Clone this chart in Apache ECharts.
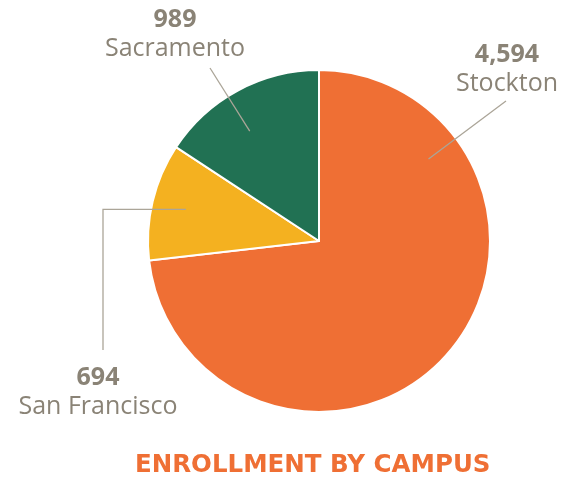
<!DOCTYPE html>
<html>
<head>
<meta charset="utf-8">
<style>
html, body { margin: 0; padding: 0; background: #fff; }
#main { width: 580px; height: 479px; }
</style>
<script src="https://cdn.jsdelivr.net/npm/echarts@6/dist/echarts.min.js"></script>
</head>
<body>
<div id="main"></div>
<script>
var campuses = ['Stockton', 'San Francisco', 'Sacramento'];
var enrollment = [4594, 694, 989];

var pieCenter = [319, 241];
var pieRadius = 171;
var sliceColors = ['#EF6F34', '#F4B120', '#217153'];
var textGray = '#8A8376';
var lineGray = '#ABA598';

// label block (top centre) and where its leader line ends
var labelSpots = [
	{x: 507, y: 40, end: [506, 101], toward: true, r: 0.8},
	{x: 98, y: 363, end: [103, 350], elbow: true, r: 0.8},
	{x: 175, y: 5, end: [210, 68], toward: true, r: 0.76}
];

var total = enrollment.reduce(function (a, b) { return a + b; }, 0);

// slice span in math degrees (pie starts at 12 o'clock, clockwise)
var sliceRange = function (i) {
	var before = 0;
	for (var j = 0; j < i; j++) before += enrollment[j];
	var a0 = 90 - before / total * 360;
	var a1 = 90 - (before + enrollment[i]) / total * 360;
	return [a1, a0];
};

var anchorPoint = function (i) {
	var spot = labelSpots[i];
	var rg = sliceRange(i);
	var ang;
	if (spot.toward) {
		ang = Math.atan2(pieCenter[1] - spot.end[1], spot.end[0] - pieCenter[0]) * 180 / Math.PI;
		while (ang > rg[1]) ang -= 360;
		ang = Math.max(rg[0] + 8, Math.min(rg[1] - 8, ang));
	} else {
		ang = (rg[0] + rg[1]) / 2;
	}
	var rad = ang * Math.PI / 180;
	var r = spot.r * pieRadius;
	return [pieCenter[0] + r * Math.cos(rad), pieCenter[1] - r * Math.sin(rad)];
};

var pieData = campuses.map(function (name, i) {
	return {name: name, value: enrollment[i], itemStyle: {color: sliceColors[i]}};
});

var chart = echarts.init(document.getElementById('main'));
chart.setOption({
	animation: false,
	title: {
		text: 'ENROLLMENT BY CAMPUS',
		left: 135,
		top: 453,
		padding: 0,
		textStyle: {
			fontFamily: 'DejaVu Sans',
			fontWeight: 'bold',
			fontSize: 24.5,
			color: '#EF6F34'
		}
	},
	series: [
		{
			// the slices
			type: 'pie',
			center: pieCenter,
			radius: pieRadius,
			startAngle: 90,
			clockwise: true,
			silent: true,
			z: 2,
			itemStyle: {
				borderColor: '#fff',
				borderWidth: 2
			},
			data: pieData,
			label: {show: false},
			labelLine: {show: false}
		},
		{
			// same data again, see-through, only to carry labels + leader lines above the slices
			type: 'pie',
			center: pieCenter,
			radius: pieRadius,
			startAngle: 90,
			clockwise: true,
			silent: true,
			z: 3,
			avoidLabelOverlap: false,
			itemStyle: {color: 'rgba(0,0,0,0)', borderWidth: 0},
			data: campuses.map(function (name, i) {
				return {name: name, value: enrollment[i]};
			}),
			label: {
				show: true,
				position: 'outside',
				formatter: function (p) {
					return '{v|' + p.value.toLocaleString('en-US') + '}\n{n|' + p.name + '}';
				},
				rich: {
					v: {fontFamily: 'Open Sans', fontWeight: 'bold', fontSize: 25, lineHeight: 29, color: textGray, align: 'center'},
					n: {fontFamily: 'Open Sans', fontSize: 25, lineHeight: 29, color: textGray, align: 'center'}
				}
			},
			labelLine: {
				show: true,
				lineStyle: {color: lineGray, width: 1.3}
			},
			labelLayout: function (p) {
				var i = p.dataIndex;
				var spot = labelSpots[i];
				var a = anchorPoint(i);
				var pts = spot.elbow
					? [a, [spot.end[0], a[1]], spot.end]
					: [a, spot.end];
				return {
					x: spot.x,
					y: spot.y,
					align: 'center',
					verticalAlign: 'top',
					labelLinePoints: pts
				};
			}
		}
	]
});
</script>
</body>
</html>
